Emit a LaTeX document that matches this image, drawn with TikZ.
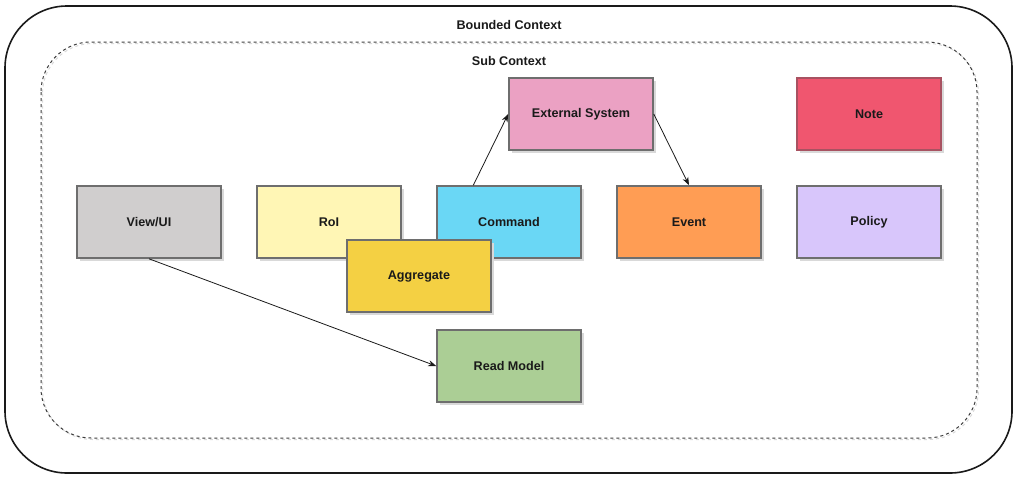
\documentclass[tikz,border=0pt]{standalone}
\usepackage{fontspec}
\setmainfont{Liberation Sans}
\usetikzlibrary{arrows.meta,shadows,calc}
\definecolor{cview}{HTML}{D0CECE}
\definecolor{croi}{HTML}{FFF6B5}
\definecolor{ccmd}{HTML}{6AD7F5}
\definecolor{cagg}{HTML}{F4D043}
\definecolor{cext}{HTML}{EBA1C3}
\definecolor{cevent}{HTML}{FF9D54}
\definecolor{cnote}{HTML}{F0566F}
\definecolor{cpolicy}{HTML}{D8C6FB}
\definecolor{cread}{HTML}{ABCE95}
\definecolor{cborder}{HTML}{6E6E6E}
\definecolor{cnoteborder}{HTML}{A85261}
\definecolor{ctext}{HTML}{1A1A1A}
\definecolor{cshadow}{HTML}{D9D9D9}
\begin{document}
\begin{tikzpicture}[x=1pt,y=-1pt,
  stickybox/.style={draw=cborder, line width=1.6pt, minimum width=144pt, minimum height=72pt,
    inner sep=0pt, font=\bfseries\fontsize{12.6}{14}\selectfont, text=ctext,
    drop shadow={shadow xshift=3pt, shadow yshift=-3pt, fill=cshadow, opacity=1}},
  title/.style={font=\bfseries\fontsize{12.6}{14}\selectfont, text=ctext, inner sep=0pt},
  conn/.style={draw=ctext, line width=0.8pt, -{Stealth[length=8pt,width=6pt]}}]
\useasboundingbox (0,0) rectangle (1016,480);
\fill[white] (0,0) rectangle (1016,480);
% outer bounded context
\draw[line width=1.6pt, draw=ctext, rounded corners=62pt] (5,6) rectangle (1012,473);
% inner sub context (shadow then dashed)
\draw[line width=1pt, draw=cshadow, dash pattern=on 3pt off 3pt, rounded corners=50pt] (42.5,43.5) rectangle (978.5,439.5);
\draw[line width=1pt, draw=ctext!85, dash pattern=on 3pt off 3pt, rounded corners=50pt] (41,42) rectangle (977,438);
\node[title] (bctx) at (509,25) {Bounded Context};
\node[title] (sctx) at (509,61) {Sub Context};
% boxes
\node[stickybox, fill=cview] (view) at (149,222) {View/UI};
\node[stickybox, fill=croi] (roi) at (329,222) {RoI};
\node[stickybox, fill=ccmd] (cmd) at (509,222) {Command};
\node[stickybox, fill=cagg] (agg) at (419,276) {Aggregate};
\node[stickybox, fill=cext] (ext) at (581,114) {External System};
\node[stickybox, fill=cevent] (event) at (689,222) {Event};
\node[stickybox, fill=cnote, draw=cnoteborder] (note) at (869,114) {Note};
\node[stickybox, fill=cpolicy] (policy) at (869,222) {Policy};
\node[stickybox, fill=cread] (read) at (509,366) {Read Model};
% connectors
\draw[conn] ($(cmd.north west)!0.255!(cmd.north east)$) -- (ext.west);
\draw[conn] (ext.east) -- (event.north);
\draw[conn] (view.south) -- (read.west);
\end{tikzpicture}
\end{document}
